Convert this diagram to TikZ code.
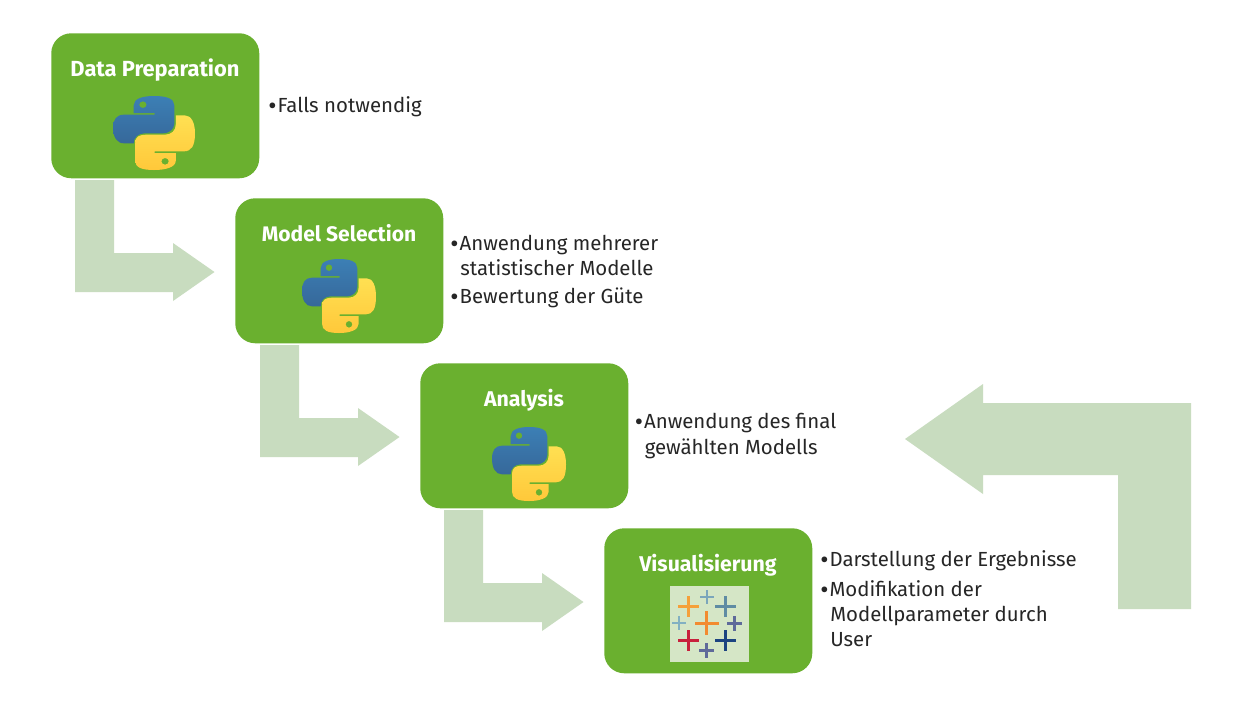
\documentclass[tikz,border=0pt]{standalone}
\usepackage{fontspec}
\setmainfont{Fira Sans}
\definecolor{boxgreen}{HTML}{6AB02F}
\definecolor{arrowgreen}{HTML}{C8DCBF}
\definecolor{tabbg}{HTML}{D5E6C6}
\definecolor{bodytext}{HTML}{262626}
\definecolor{pyA}{HTML}{3C7FB5}
\definecolor{pyB}{HTML}{36689A}
\definecolor{pyC}{HTML}{FFE052}
\definecolor{pyD}{HTML}{FFC83A}
\definecolor{tabTL}{HTML}{F5A03A}
\definecolor{tabT}{HTML}{7BA6BB}
\definecolor{tabTR}{HTML}{5F8CA3}
\definecolor{tabL}{HTML}{82B0C2}
\definecolor{tabC}{HTML}{F28B30}
\definecolor{tabR}{HTML}{5E6A9A}
\definecolor{tabBL}{HTML}{C8203C}
\definecolor{tabBR}{HTML}{1C4481}
\definecolor{tabB}{HTML}{5F6A9A}
\tikzset{
  x=0.75pt,y=-0.75pt,
  stagebox/.style={draw=none,fill=boxgreen,rounded corners=15pt,minimum width=156pt,minimum height=108.75pt,inner sep=0pt,anchor=north west},
  stagetitle/.style={text=white,font=\fontsize{#1}{18}\selectfont\bfseries,anchor=base,inner sep=0pt},
  stagetitle/.default=16,
  note/.style={text=bodytext,font=\fontsize{15.3}{18}\selectfont,anchor=base west,inner sep=0pt},
  flow/.style={fill=arrowgreen,draw=none},
  pyblue/.style={top color=pyA,bottom color=pyB,draw=none},
  pyyellow/.style={top color=pyC,bottom color=pyD,draw=none},
}
\newcommand{\bul}{\makebox[7pt][l]{\raisebox{-1.6pt}{\fontsize{19}{18}\selectfont •}}}
\newcommand{\pylogo}[4]{% x y w h
  \begin{scope}[shift={(#1,#2)},xscale=#3/222,yscale=#4/222]
    \path[pyblue,even odd rule] (56,51) -- (56,28) .. controls (56,8) and (80,0) .. (111,0) .. controls (145,0) and (166,8) .. (166,28) -- (166,82) .. controls (166,100) and (152,112) .. (135,112) -- (85,112) .. controls (68,112) and (56,125) .. (56,142) -- (30,142) .. controls (10,142) and (0,122) .. (0,95) .. controls (0,70) and (10,56) .. (30,56) -- (113,56) -- (113,51) -- cycle
      (81,26) circle[x radius=10,y radius=10];
    \path[pyyellow,even odd rule] (170,171) -- (170,194) .. controls (170,214) and (142,222) .. (111,222) .. controls (77,222) and (60,214) .. (60,194) -- (60,140) .. controls (60,122) and (72,116) .. (90,116) -- (140,116) .. controls (158,116) and (170,104) .. (170,85) -- (170,58) -- (194,58) .. controls (212,58) and (222,80) .. (222,112) .. controls (222,150) and (212,166) .. (192,166) -- (113,166) -- (113,171) -- cycle
      (141,196) circle[x radius=10,y radius=10];
  \end{scope}}
\newcommand{\tabcross}[5]{% cx cy arm thick colour
  \fill[#5] (#1-#3,#2-#4/2) rectangle (#1+#3,#2+#4/2);
  \fill[#5] (#1-#4/2,#2-#3) rectangle (#1+#4/2,#2+#3);}
\begin{document}
\begin{tikzpicture}
\useasboundingbox (0,0) rectangle (1241,719);
\fill[white] (0,0) rectangle (1241,719);
% block arrows
\fill[flow] (75,180) -- (114,180) -- (114,253) -- (173,253) -- (173,243) -- (214.5,272) -- (173,301) -- (173,292) -- (75,292) -- cycle;
\fill[flow] (260,345) -- (299,345) -- (299,418) -- (358,418) -- (358,408) -- (399.5,437) -- (358,466) -- (358,457) -- (260,457) -- cycle;
\fill[flow] (444,510) -- (483,510) -- (483,583) -- (542,583) -- (542,573) -- (583.5,602) -- (542,631) -- (542,622) -- (444,622) -- cycle;
\fill[flow] (1191,403) -- (983,403) -- (983,384) -- (905,439) -- (983,494) -- (983,475) -- (1118,475) -- (1118,609) -- (1191,609) -- cycle;
% boxes
\node[stagebox] (prep) at (51,33) {};
\node[stagebox] (model) at (235,198) {};
\node[stagebox] (analysis) at (420,363) {};
\node[stagebox] (vis) at (604,528) {};
\node[stagetitle=16.4] (prept) at (155,76.5) {Data Preparation};
\node[stagetitle=15.8] (modelt) at (339,241.5) {Model Selection};
\node[stagetitle] (analysist) at (524,406.5) {Analysis};
\node[stagetitle] (vist) at (708,571.5) {Visualisierung};
% logos
\pylogo{113}{96}{82}{74}
\pylogo{302}{259}{74}{74}
\pylogo{492}{427}{74}{74}
% tableau
\fill[tabbg] (670,586) rectangle (749,662);
\tabcross{688.7}{606.7}{10.5}{3}{tabTL}
\tabcross{707}{596.7}{7}{2}{tabT}
\tabcross{725}{606.7}{10.5}{3}{tabTR}
\tabcross{678.7}{623.3}{7}{2}{tabL}
\tabcross{706.7}{623.3}{12}{3.5}{tabC}
\tabcross{734.3}{623.3}{7.5}{2.5}{tabR}
\tabcross{688.7}{640.3}{10.5}{3}{tabBL}
\tabcross{725}{640.3}{10.5}{3}{tabBR}
\tabcross{706.7}{650.3}{7.5}{2.5}{tabB}
% notes
\node[note] (n1) at (268,112) {\bul Falls notwendig};
\node[note] (n2) at (450,250) {\bul Anwendung mehrerer};
\node[note] (n2b) at (460,275) {statistischer Modelle};
\node[note] (n3) at (450,303.5) {\bul Bewertung der Güte};
\node[note] (n4) at (634.5,428) {\bul Anwendung des final};
\node[note] (n4b) at (644.5,454) {gewählten Modells};
\node[note] (n5) at (820,566.5) {\bul Darstellung der Ergebnisse};
\node[note] (n6) at (820,596) {\bul Modifikation der};
\node[note] (n6b) at (830,621.5) {Modellparameter durch};
\node[note] (n6c) at (830,646) {User};
\end{tikzpicture}
\end{document}
